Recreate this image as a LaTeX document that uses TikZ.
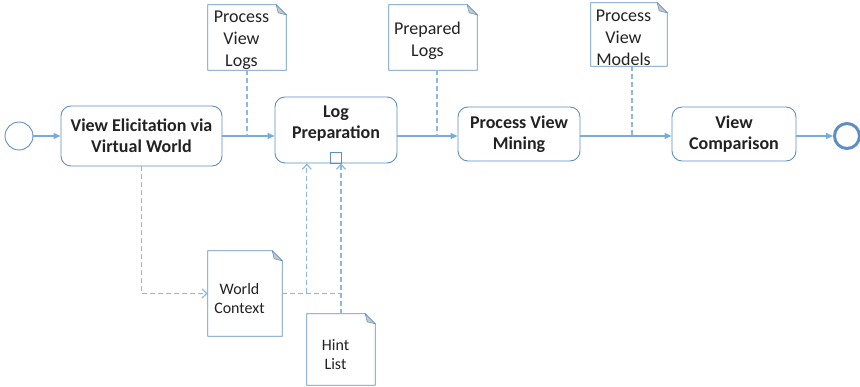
\documentclass[tikz,border=0pt]{standalone}
\usepackage{fontspec}
\setmainfont{Carlito}
\usetikzlibrary{arrows.meta}
\definecolor{boxc}{HTML}{5E8FC2}
\definecolor{linec}{HTML}{7AAADA}
\definecolor{dashc}{HTML}{8CB8E3}
\definecolor{txtc}{HTML}{222222}
\definecolor{foldc}{HTML}{C8C8C8}
\begin{document}
\begin{tikzpicture}[x=1pt,y=-1pt,
  task/.style={draw=boxc, line width=0.9pt, rounded corners=10pt, align=center,
    font=\fontsize{18}{21}\selectfont\bfseries, text=txtc, inner sep=0pt},
  docbox/.style={inner sep=0pt},
  doctext/.style={align=center, font=\fontsize{18}{22}\selectfont, text=txtc,
    inner sep=0pt, xshift=-5.5pt, yshift=-3pt},
  smalldoctext/.style={doctext, font=\fontsize{16}{19}\selectfont, yshift=-2pt},
  flow/.style={linec, line width=1.3pt, -{Triangle[length=7pt,width=6pt]}},
  assoc/.style={dashc, line width=1.2pt, dash pattern=on 5pt off 3pt},
  assocarr/.style={assoc, -{Straight Barb[length=5pt,width=9pt]}},
  docline/.style={draw=boxc, line width=0.8pt},
]
\useasboundingbox (0,0) rectangle (860,387);

% events
\node[circle, draw=boxc, line width=0.9pt, minimum size=28pt, inner sep=0pt] (start) at (19,136) {};
\node[circle, draw=boxc, line width=3pt, minimum size=25pt, inner sep=0pt] (end) at (847,136) {};

% tasks
\node[task, minimum width=161pt, minimum height=60pt] (t1) at (141.5,136) {View Elicitation via\\Virtual World};
\node[task, minimum width=122pt, minimum height=66pt,
  label={[name=t2l, align=center, font=\fontsize{18}{21}\selectfont\bfseries, text=txtc, yshift=6pt]center:Log\\Preparation}] (t2) at (336,130) {};
\node[task, minimum width=122pt, minimum height=54pt] (t3) at (519,134) {Process View\\Mining};
\node[task, minimum width=124pt, minimum height=54pt] (t4) at (734,134) {View\\Comparison};
\node[draw=boxc, line width=0.8pt, minimum size=11pt, inner sep=0pt, anchor=south] (mk) at (t2.south) {};

% data objects
\node[docbox, minimum width=78pt, minimum height=65pt,
  label={[doctext, name=pvlt]center:Process\\View\\Logs}] (pvl) at (247,37.5) {};
\node[docbox, minimum width=88pt, minimum height=65pt,
  label={[doctext, name=plt]center:Prepared\\Logs}] (pl) at (433,37.5) {};
\node[docbox, minimum width=76pt, minimum height=63pt,
  label={[doctext, name=pvmdt]center:Process\\View\\Models}] (pvmd) at (629,34.5) {};
\node[docbox, minimum width=74pt, minimum height=85pt,
  label={[smalldoctext, name=wct]center:World\\Context}] (wc) at (245,293.5) {};
\node[docbox, minimum width=68pt, minimum height=71pt,
  label={[smalldoctext, name=hlt]center:Hint\\List}] (hl) at (341,349.5) {};

\foreach \n in {pvl,pl,pvmd,wc,hl}{
  \draw[docline] (\n.south west) -- (\n.north west) -- ([xshift=-10pt]\n.north east)
     -- ([yshift=-10pt]\n.north east) -- (\n.south east) -- cycle;
  \draw[docline, line width=0.5pt, fill=foldc] ([xshift=-10pt]\n.north east)
     -- ([xshift=-8pt,yshift=-8pt]\n.north east) -- ([yshift=-10pt]\n.north east) -- cycle;
}

% sequence flows
\draw[flow] (start) -- (t1);
\draw[flow] (t1.east) -- (t1.east -| t2.west);
\draw[flow] (t1.east -| t2.east) -- (t1.east -| t3.west);
\draw[flow] (t1.east -| t3.east) -- (t1.east -| t4.west);
\draw[flow] (t4.east |- end) -- (end);

% associations
\draw[assoc] (pvl.south) -- (pvl.south |- t1.east);
\draw[assoc] ([xshift=4pt]pl.south) -- ([xshift=4pt]pl.south |- t1.east);
\draw[assoc] ([xshift=3pt]pvmd.south) -- ([xshift=3pt]pvmd.south |- t1.east);
\draw[assocarr] (t1.south) |- (wc.west);
\draw[assoc] (wc.east) -- (hl.north |- wc.east);
\draw[assocarr] (hl.north west |- wc.east) -- (hl.north west |- t2.south);
\draw[assocarr] (hl.north) -- (hl.north |- t2.south);
\end{tikzpicture}
\end{document}
